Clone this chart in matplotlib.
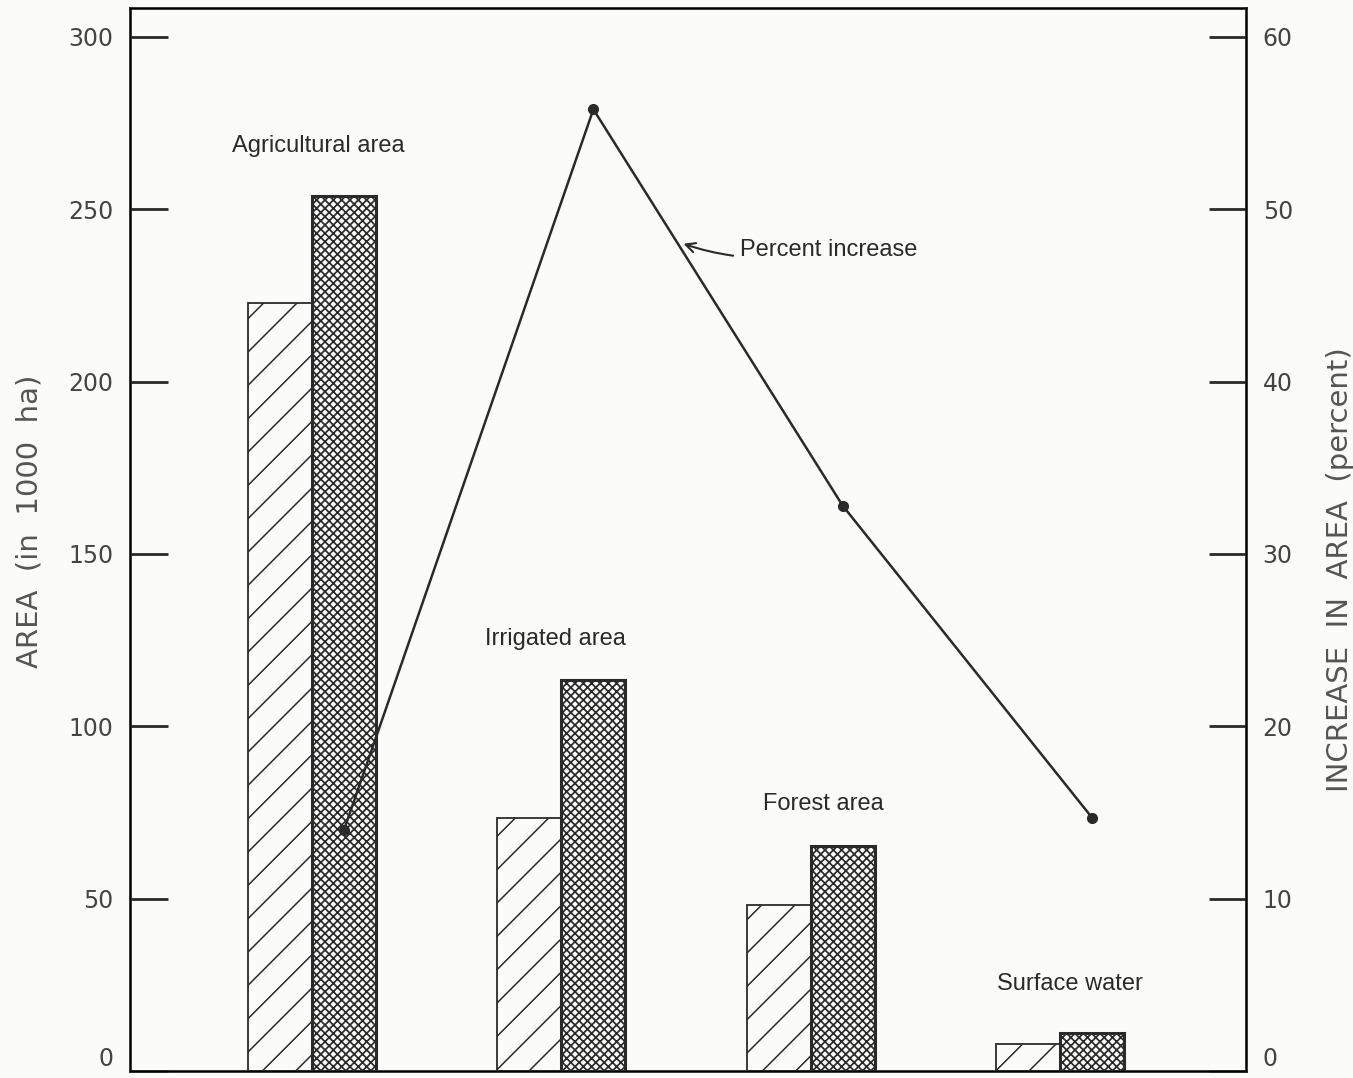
import matplotlib.pyplot as plt
import numpy as np

plt.rcParams['font.family'] = ['Liberation Sans', 'DejaVu Sans']
plt.rcParams['hatch.color'] = '#2a2a2a'

# data
categories = ["Agricultural area", "Irrigated area", "Forest area", "Surface water"]
area_before = [222.8, 73.4, 48.2, 7.8]   # hatched bars
area_after = [254.0, 113.4, 65.3, 11.0]  # cross-hatched bars
pct_increase = [14.0, 55.8, 32.8, 14.7]
left_ticks = [0, 50, 100, 150, 200, 250, 300]
right_ticks = [0, 10, 20, 30, 40, 50, 60]

ink = '#2a2a2a'
bg = '#fbfbf9'
W, H = 1353, 1078

fig = plt.figure(figsize=(W / 100, H / 100), dpi=100, facecolor=bg)
ax = fig.add_axes([130 / W, 1 - 1071 / H, 1116 / W, 1063 / H], facecolor=bg)

x = np.arange(len(categories))
w = 0.257

b1 = ax.bar(x - w / 2, area_before, w, fill=False, hatch='/', edgecolor=ink, linewidth=1.3)
b2 = ax.bar(x + w / 2, area_after, w, fill=False, hatch='xxxx', edgecolor=ink, linewidth=2.2)
for p in b1:
    p.set_hatch_linewidth(1.1)
for p in b2:
    p.set_hatch_linewidth(1.25)

ax.set_xlim(-0.73, 3.746)
ax.set_ylim(0, 308.4)
ax.set_xticks([])
ax.set_yticks(left_ticks)
ax.tick_params(axis='y', direction='in', length=27, width=2, colors=ink,
               labelsize=17, pad=12, labelcolor='#444444', labelfontfamily='DejaVu Sans')
for s in ax.spines.values():
    s.set_linewidth(2)
    s.set_color(ink)

ax2 = ax.twinx()
ax2.set_ylim(0, 308.4 / 5)
ax2.set_yticks(right_ticks)
ax2.tick_params(axis='y', direction='in', length=27, width=2, colors=ink,
                labelsize=17, pad=12, labelcolor='#444444', labelfontfamily='DejaVu Sans')
ax2.set_xticks([])
ax2.plot(x + w / 2, pct_increase, color=ink, linewidth=1.8, marker='o', markersize=7)

# keep the "0" labels inside the picture
for a in (ax, ax2):
    a.get_yticklabels()[0].set_verticalalignment('bottom')

fig.text(30 / W, 1 - 521 / H, "AREA  (in  1000  ha)", rotation=90, ha='center', va='center',
         fontsize=21, color='#555555', family=['DejaVu Sans'])
fig.text(1340 / W, 1 - 570 / H, "INCREASE  IN  AREA  (percent)", rotation=90, ha='center',
         va='center', fontsize=21, color='#555555', family=['DejaVu Sans'])

# category labels above bar groups
label_x = [0.024, 0.975, 2.05, 3.04]
label_y = [266.6, 123.6, 75.7, 23.5]
for i, name in enumerate(categories):
    ax.text(label_x[i], label_y[i], name, ha='center', va='baseline',
            fontsize=17, color=ink)

ax2.annotate("Percent increase", xy=(1.49, 48.0), xytext=(1.717, 47.3),
             fontsize=17, color=ink, va='baseline', ha='left',
             arrowprops=dict(arrowstyle='->', color=ink, lw=1.5,
                             connectionstyle='arc3,rad=-0.15', shrinkA=3, shrinkB=0))

fig.savefig("out.png", dpi=100, facecolor=bg)
